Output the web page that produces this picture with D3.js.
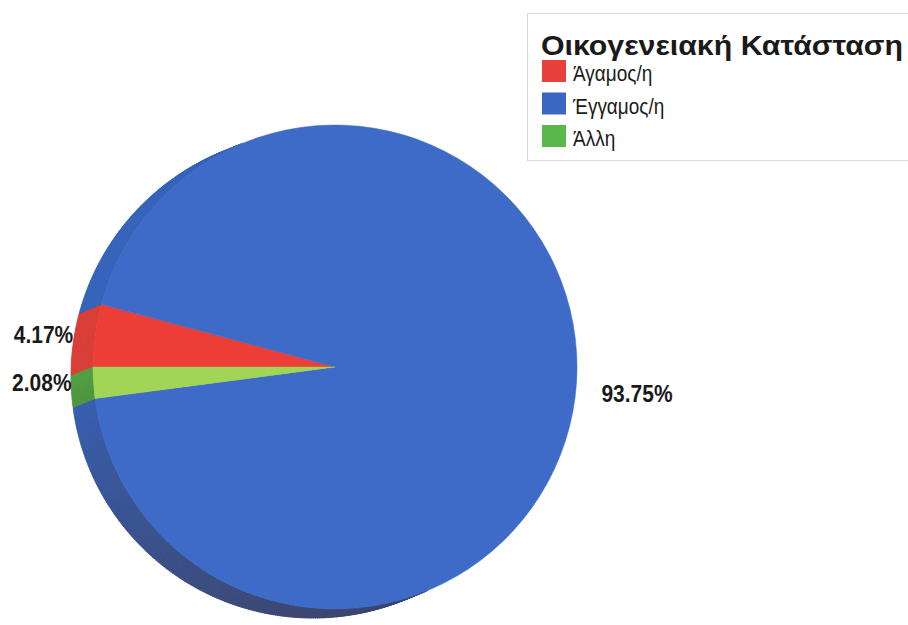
<!DOCTYPE html>
<html>
<head>
<meta charset="utf-8">
<script src="https://cdnjs.cloudflare.com/ajax/libs/d3/7.8.5/d3.min.js"></script>
<style>
  body { margin: 0; background: #fff; }
  svg { display: block; }
</style>
</head>
<body>
<svg id="chart" width="908" height="625"></svg>
<script>
// Marital status breakdown (percent of respondents)
const categories = ["Άγαμος/η", "Έγγαμος/η", "Άλλη"];
const percents = [4.17, 93.75, 2.08];
const legendTitle = "Οικογενειακή Κατάσταση";

// Colours: legend swatches, pie top face, and the lit / shaded rim
const swatchColors = ["#e8403c", "#3b66c2", "#58b84a"];
const topColors = ["#ec3d37", "#3d6bc7", "#a2d555"];
const sideLight = ["#d83c35", "#3462ba", "#4f9d3f"];
const sideDark = ["#8c2f36", "#3a4570", "#3b603b"];

const svg = d3.select("#chart");

// Pie geometry: top face plus an extruded rim toward lower-left
const cx = 335, cy = 367, r = 242;
const depth = { x: -22, y: 9 };

const pie = d3.pie()
  .sort(null)
  .value(d => d.value)
  .startAngle(Math.PI * 1.5)
  .endAngle(Math.PI * 3.5);

const data = categories.map((c, i) => ({ name: c, value: percents[i], i }));
const arcs = pie(data);

const pt = (a, rad) => [cx + rad * Math.sin(a), cy - rad * Math.cos(a)];

// Rim segments: small quads along the outer edge, only where the rim faces the viewer
const step = Math.PI / 360;
const segments = [];
arcs.forEach(arc => {
  for (let a = arc.startAngle; a < arc.endAngle - 1e-9; a += step) {
    const a1 = Math.min(a + step, arc.endAngle);
    const am = (a + a1) / 2;
    const nx = Math.sin(am), ny = -Math.cos(am);
    if (nx * depth.x + ny * depth.y <= 0) continue;
    // shade: lit on the left, darkening toward the bottom
    const deg = ((am * 180 / Math.PI) % 360 + 360) % 360;
    let t = (268 - deg) / 80;
    t = Math.max(0, Math.min(1, t));
    t = Math.pow(t, 0.7);
    const col = d3.interpolateRgb(sideLight[arc.data.i], sideDark[arc.data.i])(t);
    const p0 = pt(a, r), p1 = pt(a1, r);
    segments.push({
      pts: [p0, p1, [p1[0] + depth.x, p1[1] + depth.y], [p0[0] + depth.x, p0[1] + depth.y]],
      color: col
    });
  }
});

svg.append("g").attr("class", "rim")
  .selectAll("path")
  .data(segments)
  .join("path")
  .attr("d", d => d3.line()(d.pts) + "Z")
  .attr("fill", d => d.color)
  .attr("stroke", d => d.color)
  .attr("stroke-width", 0.8);

// Top face
const arcGen = d3.arc().innerRadius(0).outerRadius(r);
svg.append("g").attr("class", "slices")
  .attr("transform", `translate(${cx},${cy})`)
  .selectAll("path")
  .data(arcs)
  .join("path")
  .attr("d", arcGen)
  .attr("fill", d => topColors[d.data.i])
  .attr("stroke", d => topColors[d.data.i])
  .attr("stroke-width", 0.5);

// Percentage labels outside the rim
const fmt = v => v.toFixed(2) + "%";
svg.append("g").attr("class", "labels")
  .selectAll("text")
  .data(arcs)
  .join("text")
  .attr("transform", d => {
    const mid = (d.startAngle + d.endAngle) / 2;
    const right = Math.sin(mid) > 0;
    const x = cx + (r + (right ? 25 : 22)) * Math.sin(mid);
    const y = cy - r * Math.cos(mid) + (right ? 19 : 8);
    return `translate(${x},${y}) scale(1,1.15)`;
  })
  .attr("text-anchor", d => Math.sin((d.startAngle + d.endAngle) / 2) > 0 ? "start" : "end")
  .attr("font-family", "Liberation Sans, Arial, sans-serif")
  .attr("font-weight", "bold")
  .attr("font-size", 21)
  .attr("fill", "#1a1a1a")
  .text(d => fmt(d.data.value));

// Legend
const lg = svg.append("g").attr("class", "legend");
lg.append("rect")
  .attr("x", 527.5).attr("y", 13.5)
  .attr("width", 400).attr("height", 147)
  .attr("fill", "#fff")
  .attr("stroke", "#d9d9d9");
lg.append("text")
  .attr("x", 541).attr("y", 55)
  .attr("font-family", "Liberation Sans, Arial, sans-serif")
  .attr("font-weight", "bold")
  .attr("font-size", 27)
  .attr("textLength", 362)
  .attr("lengthAdjust", "spacingAndGlyphs")
  .attr("fill", "#1a1a1a")
  .text(legendTitle);
const items = lg.selectAll("g.item")
  .data(categories)
  .join("g")
  .attr("class", "item")
  .attr("transform", (d, i) => `translate(542,${60 + i * 32.5})`);
items.append("rect")
  .attr("width", 24).attr("height", 22)
  .attr("fill", (d, i) => swatchColors[i]);
items.append("text")
  .attr("transform", "translate(31,21) scale(1,1.2)")
  .attr("font-family", "Liberation Sans, Arial, sans-serif")
  .attr("font-size", 19)
  .attr("fill", "#1a1a1a")
  .text(d => d);
</script>
</body>
</html>
